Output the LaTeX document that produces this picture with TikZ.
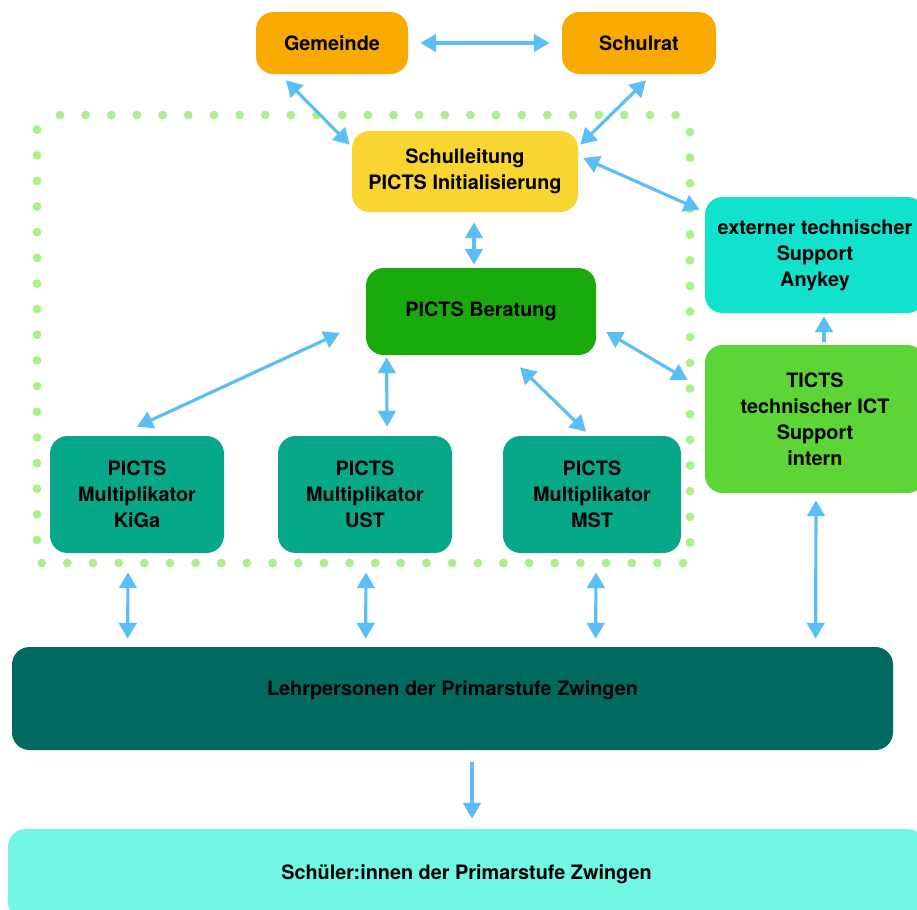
\documentclass[tikz,border=0pt]{standalone}
\usepackage{fontspec}
\setmainfont{TeX Gyre Heros}
\usepackage{tikz}
\usepackage{xcolor}
\usetikzlibrary{arrows.meta, calc, positioning}
\newdimen\pxu
\pxu=0.02cm
\definecolor{gemorange}{HTML}{F9AA00}
\definecolor{slyellow}{HTML}{F9D531}
\definecolor{bergreen}{HTML}{18AB0B}
\definecolor{extcyan}{HTML}{10E2CD}
\definecolor{tictsgreen}{HTML}{5DD536}
\definecolor{multiteal}{HTML}{07A78A}
\definecolor{lehrteal}{HTML}{016A60}
\definecolor{schuelercyan}{HTML}{72F7E5}
\definecolor{linkblue}{HTML}{5BBEF6}
\definecolor{dotgreen}{HTML}{A9F18D}
\tikzset{
    block/.style={rounded corners=10pt, align=center, inner sep=0pt,
        font=\bfseries\fontsize{11.3}{14.7}\selectfont},
    link/.style={draw=linkblue, line width=1.8pt,
        {Triangle[length=9pt,width=10pt]}-{Triangle[length=9pt,width=10pt]}},
    onelink/.style={draw=linkblue, line width=1.8pt, -{Triangle[length=9pt,width=10pt]}},
    dotline/.style={draw=dotgreen, line width=5pt, line cap=round, dash pattern=on 0pt off 14.6pt}
}

\begin{document}
\begin{tikzpicture}[x=0.02cm, y=-0.02cm]
    \useasboundingbox[fill=white] (0,0) rectangle (917,910);
    % PICTS team frame
    \draw[dotline] (60,115) -- (685,115);
    \draw[dotline] (690,132) -- (690,545);
    \draw[dotline] (683,563) -- (37,563);
    \draw[dotline] (37,540) -- (37,127);
    % blocks
    \node[block, fill=gemorange, minimum width=152\pxu, minimum height=62\pxu] (gem) at (332,43) {Gemeinde};
    \node[block, fill=gemorange, minimum width=154\pxu, minimum height=62\pxu] (srat) at (639,43) {Schulrat};
    \node[block, fill=slyellow, minimum width=226\pxu, minimum height=81\pxu] (sl) at (465,171.5) {Schulleitung\\PICTS Initialisierung};
    \node[block, fill=bergreen, minimum width=230\pxu, minimum height=87\pxu] (ber) at (481,311.5) {PICTS Beratung};
    \node[block, fill=extcyan, minimum width=220\pxu, minimum height=116\pxu] (ext) at (815,255) {externer technischer\\Support\\Anykey};
    \node[block, fill=tictsgreen, minimum width=220\pxu, minimum height=148\pxu] (ticts) at (815,419) {TICTS\\technischer ICT\\Support\\intern};
    \node[block, fill=multiteal, minimum width=174\pxu, minimum height=117\pxu] (kiga) at (137,494.5) {PICTS\\Multiplikator\\KiGa};
    \node[block, fill=multiteal, minimum width=174\pxu, minimum height=117\pxu] (ust) at (365,494.5) {PICTS\\Multiplikator\\UST};
    \node[block, fill=multiteal, minimum width=178\pxu, minimum height=117\pxu] (mst) at (592,494.5) {PICTS\\Multiplikator\\MST};
    \node[block, fill=lehrteal, minimum width=881\pxu, minimum height=103\pxu, text depth=12pt] (lehr) at (452.5,698.5) {Lehrpersonen der Primarstufe Zwingen};
    \node[block, fill=schuelercyan, minimum width=917\pxu, minimum height=91\pxu] (schueler) at (466.5,874.5) {Schüler:innen der Primarstufe Zwingen};
    % connectors
    \draw[link] ($(gem.east)+(12,0)$) -- ($(srat.west)+(-12,0)$);
    \draw[link] ($(gem.south)+(-46,6)$) -- ($(sl.north west)+(-2,14)$);
    \draw[link] ($(srat.south)+(7,6)$) -- ($(sl.north east)+(2,14)$);
    \draw[link] ($(sl.east)+(5,-13.5)$) -- ($(ext.north west)+(-5,13)$);
    \draw[link] ($(sl.south)+(9,10)$) -- ($(ber.north)+(-7,-3)$);
    \draw[link] ($(ber.west)+(-26,21.5)$) -- ($(kiga.north)+(0,-9)$);
    \draw[link] ($(ber.south west)+(21,2)$) -- ($(ust.north)+(22,-9)$);
    \draw[link] ($(ber.south)+(39,12)$) -- ($(mst.north)+(-6,-4)$);
    \draw[link] ($(ber.east)+(10,20.5)$) -- ($(ticts.west)+(-17,-39)$);
    \draw[onelink] ($(ticts.north)+(9,-3)$) -- ($(ext.south)+(9,3)$);
    \draw[link] ($(kiga.south)+(-9,19)$) -- ($(lehr.north west)+(116,-8)$);
    \draw[link] ($(ust.south)+(1,19)$) -- ($(lehr.north west)+(354,-8)$);
    \draw[link] ($(mst.south)+(4,19)$) -- ($(lehr.north west)+(584,-8)$);
    \draw[link] ($(ticts.south)+(1,7)$) -- ($(lehr.north west)+(804,-8)$);
    \draw[onelink] ($(lehr.south)+(19.5,12)$) -- ($(schueler.north)+(5.5,-10)$);
\end{tikzpicture}
\end{document}
